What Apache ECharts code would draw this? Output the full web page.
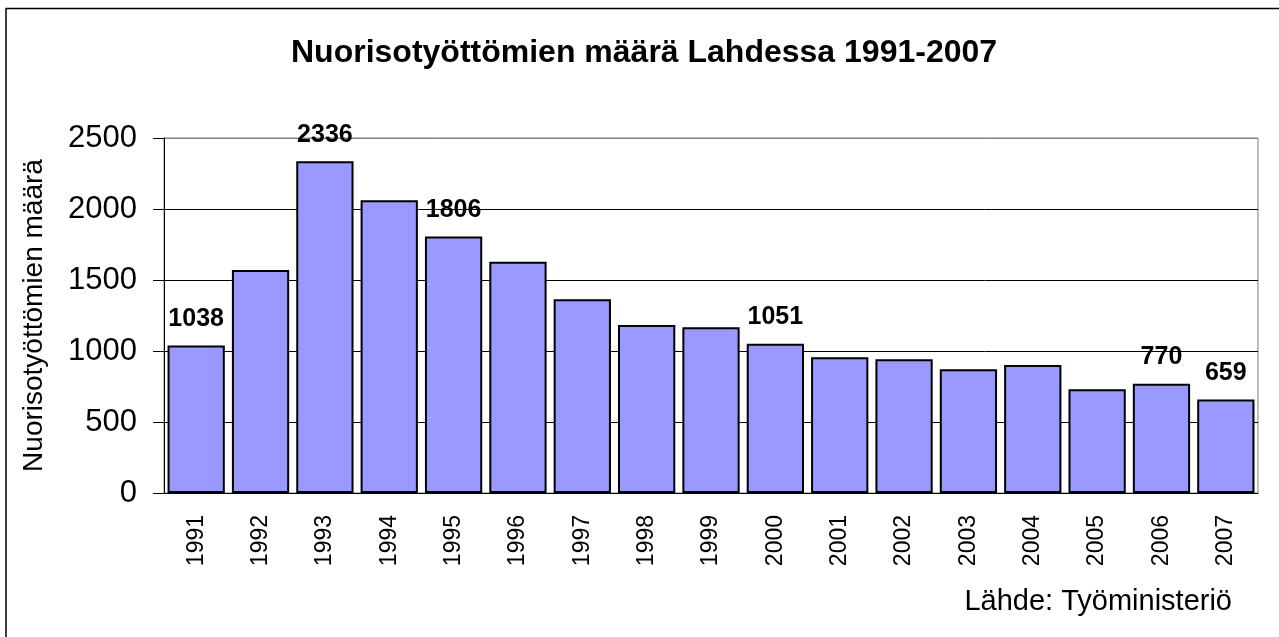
<!DOCTYPE html>
<html>
<head>
<meta charset="utf-8">
<script src="https://cdn.jsdelivr.net/npm/echarts@6/dist/echarts.min.js"></script>
<style>
  html, body { margin: 0; padding: 0; background: #fff; }
  #main { width: 1279px; height: 637px; }
</style>
</head>
<body>
<div id="main"></div>
<script>
var years = ['1991', '1992', '1993', '1994', '1995', '1996', '1997', '1998', '1999',
  '2000', '2001', '2002', '2003', '2004', '2005', '2006', '2007'];
var counts = [1038, 1570, 2336, 2062, 1806, 1628, 1364, 1183, 1167,
  1051, 956, 942, 872, 902, 731, 770, 659];
// vuodet joille näytetään arvo palkin päällä
var labelledYears = ['1991', '1993', '1995', '2000', '2006', '2007'];

var font = '"Liberation Sans", Arial, sans-serif';
var myChart = echarts.init(document.getElementById('main'));
var option;

var barData = counts.map(function (v, i) {
  return {
    value: v,
    label: { show: labelledYears.indexOf(years[i]) >= 0 }
  };
});

option = {
  backgroundColor: '#fff',
  animation: false,
  title: {
    text: 'Nuorisotyöttömien määrä Lahdessa 1991-2007',
    left: 291,
    top: 37,
    padding: 0,
    textStyle: {
      fontFamily: font,
      fontSize: 32,
      fontWeight: 'bold',
      color: '#000'
    }
  },
  grid: {
    left: 164,
    right: 21,
    top: 138,
    bottom: 144,
    show: true,
    borderColor: '#808080',
    borderWidth: 1
  },
  xAxis: {
    type: 'category',
    data: years,
    axisLine: { lineStyle: { color: '#000', width: 1 } },
    axisTick: { length: 7, lineStyle: { color: '#000' } },
    axisLabel: {
      rotate: 90,
      margin: 22,
      fontFamily: font,
      fontSize: 23,
      color: '#000'
    }
  },
  yAxis: {
    type: 'value',
    min: 0,
    max: 2500,
    interval: 500,
    name: 'Nuorisotyöttömien määrä',
    nameLocation: 'middle',
    nameGap: 116,
    nameTextStyle: {
      fontFamily: font,
      fontSize: 28,
      color: '#000'
    },
    axisLine: { show: true, lineStyle: { color: '#000', width: 1 } },
    axisTick: { show: true, length: 11, lineStyle: { color: '#000' } },
    axisLabel: {
      margin: 27,
      fontFamily: font,
      fontSize: 31,
      color: '#000',
      formatter: function (v) { return String(v); }
    },
    splitLine: {
      lineStyle: {
        color: ['#000', '#000', '#000', '#000', '#000', '#808080'],
        width: 1
      }
    }
  },
  series: [
    {
      name: 'Nuorisotyöttömät',
      type: 'bar',
      data: barData,
      barCategoryGap: '11%',
      itemStyle: {
        color: '#9999ff',
        borderColor: '#000',
        borderWidth: 2
      },
      label: {
        position: 'top',
        distance: 14,
        fontFamily: font,
        fontSize: 25,
        fontWeight: 'bold',
        color: '#000'
      }
    }
  ],
  graphic: [
    {
      type: 'rect',
      shape: { x: 6, y: 8.5, width: 1400, height: 800 },
      style: { fill: 'none', stroke: '#000', lineWidth: 1.5 },
      silent: true
    },
    {
      type: 'text',
      x: 1232,
      y: 602,
      style: {
        text: 'Lähde: Työministeriö',
        fontFamily: font,
        fontSize: 29,
        fill: '#000',
        textAlign: 'right',
        textVerticalAlign: 'middle'
      }
    }
  ]
};

option && myChart.setOption(option);
</script>
</body>
</html>
